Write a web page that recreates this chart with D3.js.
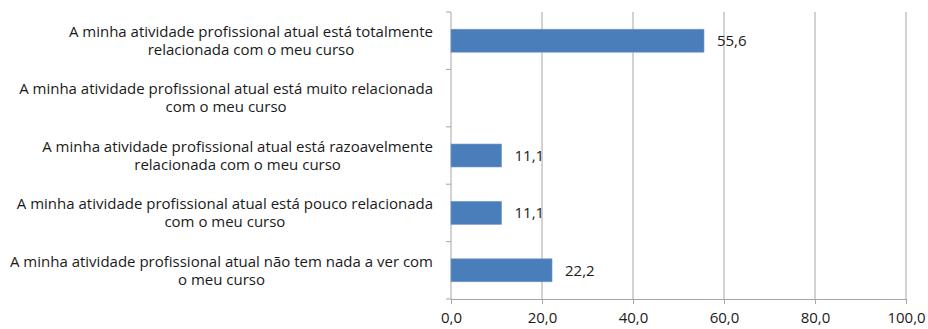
<!DOCTYPE html>
<html>
<head>
<meta charset="utf-8">
<script src="https://cdn.jsdelivr.net/npm/d3@7"></script>
<style>
  html, body { margin: 0; padding: 0; background: #fff; }
  svg { display: block; }
  text { font-family: "Open Sans", Lato, sans-serif; fill: #1a1a1a; }
</style>
</head>
<body>
<svg id="chart" width="928" height="329"></svg>
<script>
// Categories, each split into its two wrapped lines
const categories = [
  ["A minha atividade profissional atual está totalmente", "relacionada com o meu curso"],
  ["A minha atividade profissional atual está muito relacionada", "com o meu curso"],
  ["A minha atividade profissional atual está razoavelmente", "relacionada com o meu curso"],
  ["A minha atividade profissional atual está pouco relacionada", "com o meu curso"],
  ["A minha atividade profissional atual não tem nada a ver com", "o meu curso"]
];
// Percentages (second category has no answers, left blank)
const values = [55.6, null, 11.1, 11.1, 22.2];
const xTicks = [0, 20, 40, 60, 80, 100];

const fmt = v => v.toFixed(1).replace(".", ",");
const fontSize = "15px";

const svg = d3.select("#chart");
const margin = { top: 12, right: 22, bottom: 30, left: 451 };
const W = 928, H = 329;
const x0 = margin.left, x1 = W - margin.right;
const y0 = margin.top, y1 = H - margin.bottom;

const x = d3.scaleLinear().domain([0, 100]).range([x0, x1]);
const ids = categories.map((d, i) => i);
const y = d3.scaleBand().domain(ids).range([y0, y1]).paddingInner(0.6).paddingOuter(0.3);
const yOuter = d3.scaleBand().domain(ids).range([y0, y1]);

const gridColor = "#a6a6a6";

// Vertical gridlines
svg.append("g")
  .selectAll("line")
  .data(xTicks.slice(1))
  .join("line")
  .attr("x1", d => x(d)).attr("x2", d => x(d))
  .attr("y1", y0).attr("y2", y1)
  .attr("stroke", gridColor).attr("stroke-width", 1);

// Bottom value axis
const xAxis = svg.append("g")
  .attr("transform", `translate(0,${y1})`)
  .call(d3.axisBottom(x).tickValues(xTicks).tickFormat(fmt).tickSize(5).tickPadding(8));
xAxis.select(".domain").attr("stroke", gridColor).attr("d", `M${x0},0.5H${x1}`);
xAxis.selectAll(".tick line").attr("stroke", gridColor);
xAxis.selectAll(".tick text").style("font-size", fontSize).attr("fill", "#1a1a1a")
  .style("font-family", "'Open Sans', Lato, sans-serif");

// Left category axis line with boundary ticks
svg.append("line")
  .attr("x1", x0).attr("x2", x0).attr("y1", y0).attr("y2", y1)
  .attr("stroke", gridColor);
const bounds = ids.map(i => yOuter(i)).concat([y1]);
svg.append("g").selectAll("line")
  .data(bounds).join("line")
  .attr("x1", x0 - 5).attr("x2", x0)
  .attr("y1", d => d).attr("y2", d => d)
  .attr("stroke", gridColor);

// Bars
svg.append("g").selectAll("rect")
  .data(ids.filter(i => values[i] != null))
  .join("rect")
  .attr("x", x(0))
  .attr("y", i => y(i))
  .attr("width", i => x(values[i]) - x(0))
  .attr("height", y.bandwidth())
  .attr("fill", "#4a7ebb")
  .attr("stroke", "#6f97c9").attr("stroke-width", 0.6);

// Value labels
svg.append("g").selectAll("text")
  .data(ids.filter(i => values[i] != null))
  .join("text")
  .attr("x", i => x(values[i]) + 13)
  .attr("y", i => y(i) + y.bandwidth() / 2)
  .attr("dy", "0.35em")
  .style("font-size", fontSize)
  .text(i => fmt(values[i]));

// Category labels: block right-aligned, lines centred within the block
const labelRight = 433;
const lg = svg.append("g");
ids.forEach(i => {
  const cy = yOuter(i) + yOuter.bandwidth() / 2;
  const t = lg.append("text").style("font-size", fontSize).attr("text-anchor", "middle");
  const spans = categories[i].map((line, k) =>
    t.append("tspan").attr("y", cy + (k - 0.5) * 18).attr("dy", "0.35em").text(line));
  const wmax = d3.max(spans, s => s.node().getComputedTextLength());
  spans.forEach(s => s.attr("x", labelRight - wmax / 2));
});
</script>
</body>
</html>
